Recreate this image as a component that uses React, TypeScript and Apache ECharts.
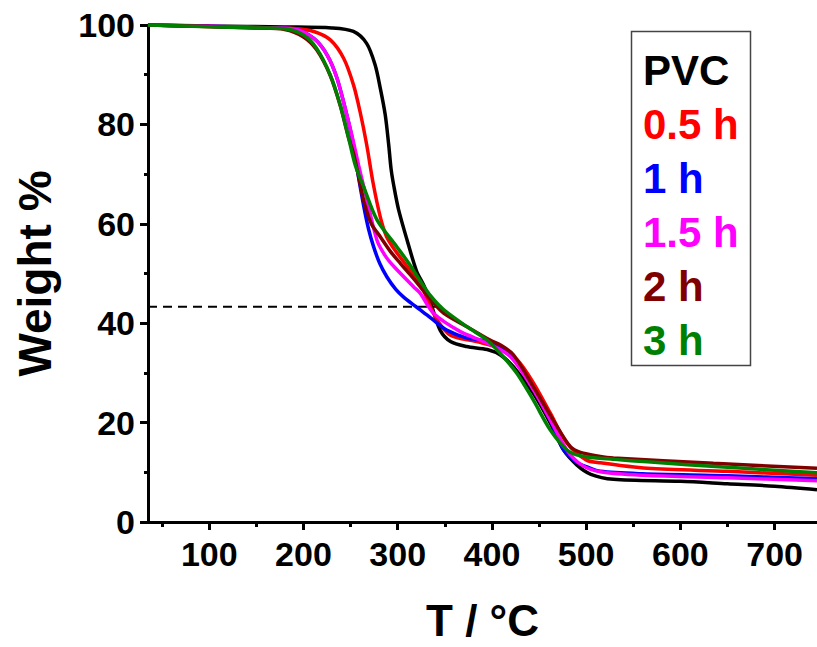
import React, { useEffect, useRef } from "react";
import * as echarts from "echarts";

const seriesNames = ["PVC", "0.5 h", "1 h", "1.5 h", "2 h", "3 h"];
const seriesColors = ["#000000", "#ff0000", "#0000ff", "#ff00ff", "#800000", "#008000"];

const pvc = [[35,100],[100,99.8],[180,99.6],[230,99.4],[253,98.7],[267,96.3],[276,92],[281.5,87.3],[286.8,81.9],[290.4,76],[293,71],[296,67.5],[301,62.8],[310,56.7],[320,50.5],[328,47.5],[336,43.5],[345,38.6],[356,36.3],[373,35.3],[395,34.7],[409,33.6],[423,31.2],[444,25.9],[462,19.9],[476,14.5],[490,11.5],[505,9.6],[529,8.6],[600,8.2],[650,7.7],[700,7.2],[745,6.5]];
const h05 = [[35,100],[150,99.5],[190,99.3],[211,98.7],[228.5,97],[242.6,93.3],[253,88],[260,82.6],[267,76],[274,68.1],[281.5,61.4],[288,57.5],[296,55],[313,50.7],[324,48],[332,44.5],[342,40.6],[356,37.6],[384,36.3],[409,34.9],[427,32.6],[444,28],[462,21.9],[479.5,15.9],[500,12.5],[515,11.9],[565,10.8],[650,10.2],[745,9.4]];
const h1 = [[35,100],[150,99.5],[190,99.2],[211,97.3],[225,94],[235.6,89.3],[246,81.9],[253,76],[257,71],[264,63.5],[269,59],[274.4,55.4],[281,52],[288.6,49.3],[298,46.8],[306,45.3],[316,43.8],[324,42.7],[338,40.6],[352,38.6],[373.5,37],[395,36.3],[420,33.5],[444,27],[462,20.5],[476,14.5],[490,12],[501,11.1],[515,10.2],[560,9.7],[650,9.3],[745,8.7]];
const h15 = [[35,100],[150,99.5],[190,99.2],[211,97.3],[225,94],[235.6,89.3],[246,81.9],[253,76.5],[258.5,71.8],[267.4,64.8],[278,56.7],[287,53.5],[296,51.4],[317,47.3],[324,46],[338,42],[366.5,38.3],[395,36],[419.5,33.3],[444,26.6],[462,20.5],[479.5,14.5],[495,11.5],[515,10.1],[560,9.4],[650,8.9],[745,8.3]];
const h2 = [[35,100],[150,99.4],[180,99.1],[200,97.6],[214,95],[228.5,89.8],[239,83.8],[248,77.2],[253,74.2],[258,70],[263.8,64.8],[272,60],[281.5,57.4],[292,54.5],[303,52],[314,49.6],[324,47.3],[336,44.5],[349,42],[373.5,39.3],[398,36.6],[410,35.5],[423,33.6],[444,27.2],[465,20.5],[483,15.2],[494,14],[515,13.2],[529,12.9],[635,11.8],[745,10.8]];
const h3 = [[35,100],[150,99.4],[178,99.3],[200,98],[214,95.3],[228.5,89.9],[239,83.9],[248,77.2],[255,71.8],[263.8,67.5],[278,60.8],[299,55.4],[312,52],[324,48.5],[335,45.5],[349,42.7],[373.5,39.3],[395,36.6],[409,33.9],[426.6,29.9],[444,24.5],[462,18.5],[479.5,14.5],[490,13.5],[501,13.1],[530,12.6],[565,12.1],[650,11],[745,9.9]];
const seriesData = [pvc, h05, h1, h15, h2, h3];

const dashLine = [[35,43.3],[348,43.3]];

const xMajorTicks = [100, 200, 300, 400, 500, 600, 700];
const xMinorTicks = [50, 150, 250, 350, 450, 550, 650];

const FONT = "'Liberation Sans', Arial, sans-serif";

export default function App() {
  const ref = useRef<HTMLDivElement>(null);
  useEffect(() => {
    if (!ref.current) return;
    document.body.style.margin = "0";
    const chart = echarts.init(ref.current, undefined, { renderer: "svg" });
    const axisLineStyle = { color: "#000", width: 3 };
    const labelStyle = { fontSize: 34, fontWeight: "bold", color: "#000", fontFamily: FONT };
    chart.setOption({
      animation: false,
      backgroundColor: "#fff",
      grid: { left: 148, right: 0, top: 25, bottom: 125, containLabel: false },
      xAxis: [
        {
          type: "value", min: 35, max: 745, position: "bottom",
          axisLine: { onZero: false, lineStyle: axisLineStyle },
          axisTick: { customValues: xMajorTicks, length: 8, lineStyle: { color: "#000", width: 3 } },
          axisLabel: { customValues: xMajorTicks, margin: 15, ...labelStyle },
          splitLine: { show: false },
          name: "T / °C", nameLocation: "middle", nameGap: 76,
          nameTextStyle: { fontSize: 44, fontWeight: "bold", color: "#000", fontFamily: FONT },
        },
        {
          type: "value", min: 35, max: 745, position: "bottom",
          axisLine: { show: false, onZero: false },
          axisTick: { customValues: xMinorTicks, length: 5, lineStyle: { color: "#000", width: 3 } },
          axisLabel: { show: false },
          splitLine: { show: false },
        },
      ],
      yAxis: {
        type: "value", min: 0, max: 100, interval: 20,
        axisLine: { show: true, onZero: false, lineStyle: axisLineStyle },
        axisTick: { show: true, length: 8, lineStyle: { color: "#000", width: 3 } },
        minorTick: { show: true, splitNumber: 2, length: 4, lineStyle: { color: "#000", width: 3 } },
        axisLabel: { margin: 13, ...labelStyle },
        splitLine: { show: false },
        name: "Weight %", nameLocation: "middle", nameGap: 90,
        nameTextStyle: { fontSize: 46, fontWeight: "bold", color: "#000", fontFamily: FONT },
      },
      legend: {
        orient: "vertical", left: 637, top: 43, itemGap: 0, itemWidth: 1, itemHeight: 10,
        padding: 0, icon: "none", selectedMode: false,
        textStyle: { fontSize: 42, fontWeight: "bold", fontFamily: FONT, lineHeight: 54 },
        data: seriesNames.map((n, i) => ({ name: n, textStyle: { color: seriesColors[i] } })),
      },
      graphic: [
        {
          type: "rect", left: 629, top: 29, z: 100,
          shape: { width: 119, height: 334 },
          style: { fill: "none", stroke: "#444", lineWidth: 1.5 },
        },
      ],
      series: [
        {
          name: "_dash", type: "line", data: dashLine, symbol: "none", silent: true,
          lineStyle: { color: "#000", width: 2, type: [9, 6] },
        },
        ...seriesNames.map((n, i) => ({
          name: n, type: "line", data: seriesData[i], symbol: "none", smooth: 0.3,
          lineStyle: { color: seriesColors[i], width: 3.5 },
          itemStyle: { color: seriesColors[i] },
        })),
      ],
    });
    return () => chart.dispose();
  }, []);
  return <div ref={ref} style={{ width: 817, height: 647 }} />;
}
